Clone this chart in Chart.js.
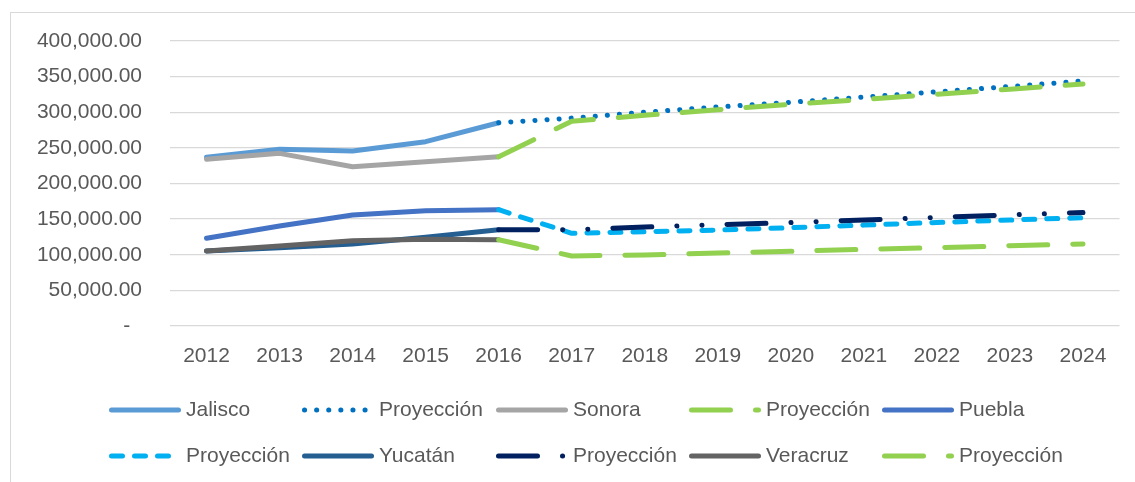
<!DOCTYPE html>
<html>
<head>
<meta charset="utf-8">
<script src="https://cdn.jsdelivr.net/npm/chart.js@4.4.0/dist/chart.umd.min.js"></script>
<style>
  body { margin: 0; background: #fff; }
</style>
</head>
<body>
<canvas id="grafico" width="1135" height="482"></canvas>
<script>
// datos
const anios = ["2012","2013","2014","2015","2016","2017","2018","2019","2020","2021","2022","2023","2024"];
const ticksY = [0, 50000, 100000, 150000, 200000, 250000, 300000, 350000, 400000];

const jalisco     = [237000, 248000, 245600, 258700, 285300, null, null, null, null, null, null, null, null];
const jaliscoProy = [null, null, null, null, 285300, 291800, 300000, 307400, 314000, 321300, 328700, 336100, 343900];
const sonora      = [233900, 242300, 223600, 230600, 237500, null, null, null, null, null, null, null, null];
const sonoraProy  = [null, null, null, null, 237500, 287500, 295700, 303600, 311300, 317900, 325300, 332300, 339800];
const puebla      = [123100, 140400, 155800, 161800, 163200, null, null, null, null, null, null, null, null];
const pueblaProy  = [null, null, null, null, 163200, 130100, 132400, 134700, 138000, 141600, 145300, 148700, 152000];
const yucatan     = [105300, 109900, 115100, 124500, 135200, null, null, null, null, null, null, null, null];
const yucatanProy = [null, null, null, null, 135200, 135100, 138800, 142200, 145200, 148800, 152400, 155900, 159200];
const veracruz    = [105300, 112300, 119700, 121700, 121000, null, null, null, null, null, null, null, null];
const veracruzProy= [null, null, null, null, 121000, 98300, 99700, 102300, 104900, 107500, 109900, 112600, 115200];

const series = [
  { label: "Jalisco",    data: jalisco,      color: "#5b9bd5", dash: [] },
  { label: "Proyección", data: jaliscoProy,  color: "#0070c0", dash: [0.1, 12] },
  { label: "Sonora",     data: sonora,       color: "#a5a5a5", dash: [] },
  { label: "Proyección", data: sonoraProy,   color: "#92d050", dash: [39, 25] },
  { label: "Puebla",     data: puebla,       color: "#4472c4", dash: [] },
  { label: "Proyección", data: pueblaProy,   color: "#00b0f0", dash: [11, 12] },
  { label: "Yucatán",    data: yucatan,      color: "#255e91", dash: [] },
  { label: "Proyección", data: yucatanProy,  color: "#002060", dash: [39, 25, 0.1, 25, 0.1, 25] },
  { label: "Veracruz",   data: veracruz,     color: "#636363", dash: [] },
  { label: "Proyección", data: veracruzProy, color: "#92d050", dash: [39, 25] }
];

const FUENTE = "'Liberation Sans', Arial, sans-serif";
const GRIS_TXT = "#595959";

// marco + leyenda en cuadrícula (como en Excel)
const marcoLeyenda = {
  id: "marcoLeyenda",
  beforeDraw(chart) {
    const ctx = chart.ctx;
    ctx.save();
    ctx.strokeStyle = "#d9d9d9";
    ctx.lineWidth = 1;
    ctx.strokeRect(10.5, 12.5, 1300, 600);
    ctx.restore();
  },
  afterDraw(chart) {
    const ctx = chart.ctx;
    const cols = [109, 302, 496, 689, 882];
    const filas = [410, 456];
    ctx.save();
    chart.data.datasets.forEach((ds, i) => {
      const x = cols[i % 5];
      const y = filas[Math.floor(i / 5)];
      ctx.beginPath();
      ctx.strokeStyle = ds.borderColor;
      ctx.lineWidth = ds.borderWidth;
      ctx.lineCap = "round";
      ctx.setLineDash(ds.borderDash);
      ctx.moveTo(x + 2.5, y);
      ctx.lineTo(x + 69.5, y);
      ctx.stroke();
      ctx.setLineDash([]);
      ctx.fillStyle = GRIS_TXT;
      ctx.font = `21px ${FUENTE}`;
      ctx.textBaseline = "middle";
      ctx.textAlign = "left";
      ctx.fillText(ds.label, x + 77, y);
    });
    ctx.restore();
  }
};

const ctx = document.getElementById("grafico").getContext("2d");
new Chart(ctx, {
  type: "line",
  data: {
    labels: anios,
    datasets: series.map((s, i) => ({
      label: s.label,
      data: s.data,
      borderColor: s.color,
      backgroundColor: s.color,
      borderWidth: 5,
      borderDash: s.dash,
      borderCapStyle: "round",
      borderJoinStyle: "round",
      pointRadius: 0,
      pointHoverRadius: 0,
      tension: 0,
      fill: false,
      order: series.length - i
    }))
  },
  options: {
    responsive: false,
    animation: false,
    devicePixelRatio: 1,
    layout: { padding: { left: 0, right: 15.5, top: 41, bottom: 96 } },
    plugins: {
      legend: { display: false },
      tooltip: { enabled: false }
    },
    scales: {
      x: {
        offset: true,
        grid: { display: false, drawTicks: false },
        border: { display: false },
        ticks: { color: GRIS_TXT, font: { family: FUENTE, size: 21 }, padding: 18, maxRotation: 0, autoSkip: false },
        afterFit: s => { s.height = 60; }
      },
      y: {
        min: 0,
        max: 400000,
        afterBuildTicks: s => { s.ticks = ticksY.map(v => ({ value: v })); },
        grid: { color: "#d9d9d9", lineWidth: 1.3, drawTicks: false },
        border: { display: false },
        ticks: {
          color: GRIS_TXT,
          font: { family: FUENTE, size: 21 },
          padding: 28,
          callback: v => v === 0 ? "-  " : v.toLocaleString("en-US", { minimumFractionDigits: 2, maximumFractionDigits: 2 })
        },
        afterFit: s => { s.width = 170; }
      }
    }
  },
  plugins: [marcoLeyenda]
});
</script>
</body>
</html>
